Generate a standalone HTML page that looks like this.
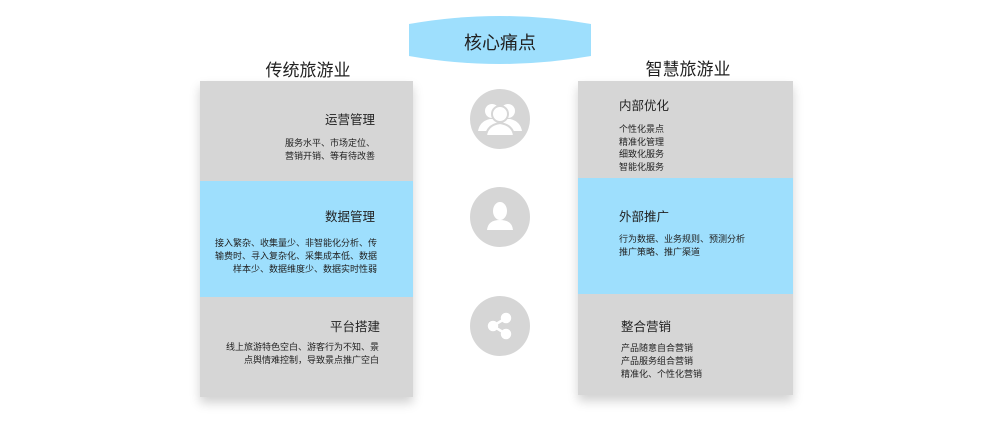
<!DOCTYPE html><html><head><meta charset="utf-8"><style>
body{margin:0;width:1000px;height:433px;background:#fff;position:relative;font-family:"Liberation Sans","Noto Sans CJK SC",sans-serif;color:#222;overflow:hidden}
.a{position:absolute}
.card{position:absolute;background:#d6d6d6;box-shadow:0 6px 10px rgba(0,0,0,.18)}
.blue{position:absolute;background:#9edffd}
.h{position:absolute;font-size:12.5px;white-space:nowrap}
.t{position:absolute;font-size:9px;line-height:13px;white-space:nowrap}
.c{position:absolute;width:60px;height:60px;border-radius:50%;background:#d6d6d6}
</style></head><body>
<svg class="a" style="left:405px;top:12px" width="190" height="58"><path d="M4 12 Q95 -4 186 12 L186 44 Q95 60 4 44 Z" fill="#9edffd"/></svg>
<div class="a" style="left:440px;top:29px;width:120px;text-align:center;font-size:18px">核心痛点</div>
<div class="a" style="left:250px;top:56px;width:116px;text-align:center;font-size:17px">传统旅游业</div>
<div class="a" style="left:630px;top:55px;width:116px;text-align:center;font-size:17px">智慧旅游业</div>

<div class="card" style="left:200px;top:81px;width:213px;height:316px"></div>
<div class="blue" style="left:200px;top:181px;width:213px;height:116px"></div>
<div class="h" style="right:625px;top:109px">运营管理</div>
<div class="t" style="right:625px;top:137px;text-align:right">服务水平、市场定位、<br>营销开销、等有待改善</div>
<div class="h" style="right:625px;top:206px">数据管理</div>
<div class="t" style="right:623px;top:237px;text-align:right">接入繁杂、收集量少、非智能化分析、传<br>输费时、寻入复杂化、采集成本低、数据<br>样本少、数据维度少、数据实时性弱</div>
<div class="h" style="right:620px;top:316px">平台搭建</div>
<div class="t" style="right:621px;top:341px;text-align:right">线上旅游特色空白、游客行为不知、景<br>点舆情难控制，导致景点推广空白</div>

<div class="card" style="left:578px;top:81px;width:215px;height:314px"></div>
<div class="blue" style="left:578px;top:178px;width:215px;height:116px"></div>
<div class="h" style="left:619px;top:95px">内部优化</div>
<div class="t" style="left:619px;top:123px;line-height:12.5px">个性化景点<br>精准化管理<br>细致化服务<br>智能化服务</div>
<div class="h" style="left:619px;top:206px">外部推广</div>
<div class="t" style="left:619px;top:233px">行为数据、业务规则、预测分析<br>推广策略、推广渠道</div>
<div class="h" style="left:621px;top:316px">整合营销</div>
<div class="t" style="left:621px;top:342px">产品随意自合营销<br>产品服务组合营销<br>精准化、个性化营销</div>

<div class="c" style="left:470px;top:89px"></div>
<svg class="a" style="left:470px;top:89px" width="60" height="60"><g fill="#fff"><circle cx="22" cy="22" r="7"/><circle cx="38" cy="22" r="7"/><path d="M8 42 Q10 32 20 30 L40 30 Q50 32 52 42 Z"/><circle cx="30" cy="25" r="8" fill="#fff" stroke="#d6d6d6" stroke-width="2"/><path d="M16 47 Q17 36 30 34 Q43 36 44 47 Z" stroke="#d6d6d6" stroke-width="2"/></g></svg>
<div class="c" style="left:470px;top:187px"></div>
<svg class="a" style="left:470px;top:187px" width="60" height="60"><g fill="#fff"><ellipse cx="30" cy="24" rx="7" ry="9"/><path d="M17 43 Q18 33 30 33 Q42 33 43 43 Z"/></g></svg>
<div class="c" style="left:470px;top:296px"></div>
<svg class="a" style="left:470px;top:296px" width="60" height="60"><g fill="#fff" stroke="#fff" stroke-width="2.5"><line x1="23" y1="30" x2="36" y2="22"/><line x1="23" y1="30" x2="36" y2="38"/><circle cx="23" cy="30" r="4"/><circle cx="36" cy="22" r="4"/><circle cx="36" cy="38" r="4"/></g></svg>
</body></html>
